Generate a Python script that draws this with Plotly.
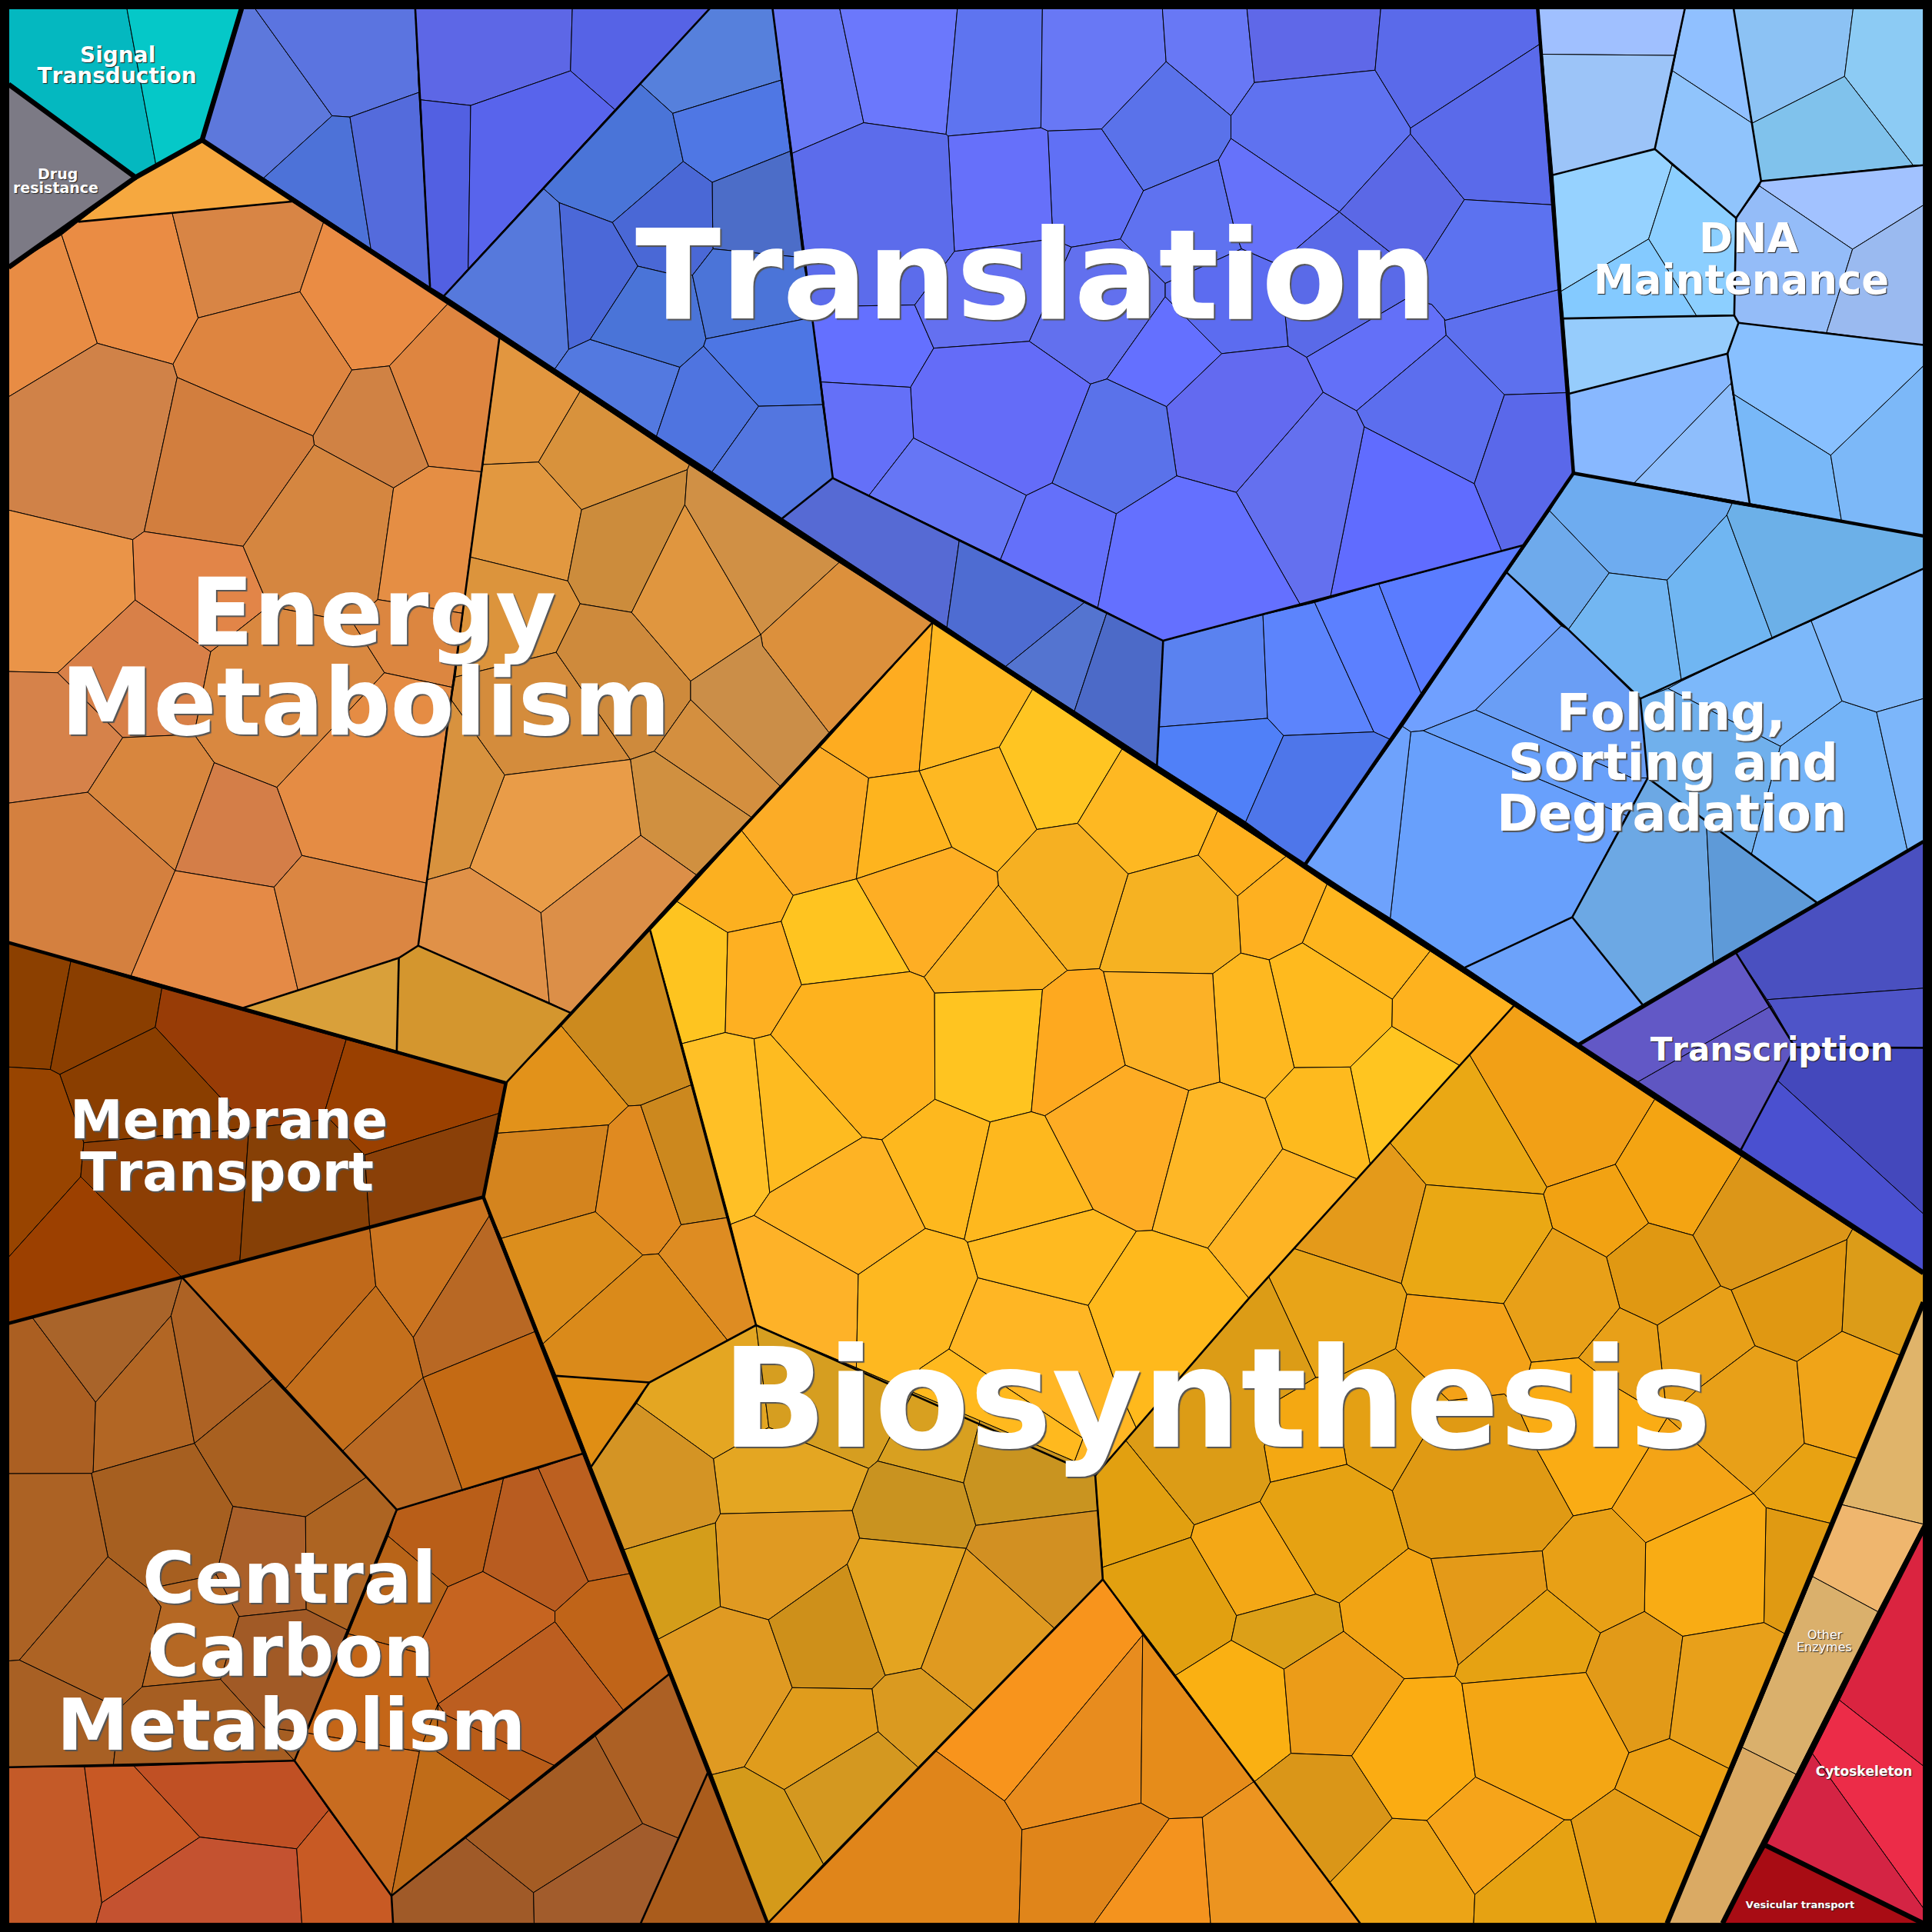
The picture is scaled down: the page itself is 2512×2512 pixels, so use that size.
import plotly.graph_objects as go

# Coordinates on a 0-1568 square, y pointing down.
top_polys = [
 [7,7,103,7,126.4,133,110,144,7,68.5],
 [103,7,196,7,164,113.7,126.4,133],
 [7,68.5,110,144,7,217],
 [164,113.7,237,163.5,63.5,180,110,144],
]
top_colors = ["#04b8c0","#05c8c8","#7c7a85","#f6a83f"]

trans_a_polys = [
 [196,7,207,7,269.5,94,214,144.5,164,113.7],
 [207,7,337,7,340,75,284,95,269.5,94],
 [269.5,94,284,95,301,202,214,144.5],
 [284,95,340,75,349,233,301,202],
 [337,7,464.5,7,463,57.5,382,85.6,341.4,81,340,75],
 [464.5,7,576,7,499,89,463,57.5],
 [341.4,81,382,85.6,380,218,360.5,240,349,233],
 [382,85.6,463,57.5,499,89,380,218],
]
trans_a_colors = ["#5d78dc","#5b74e0","#4d72d8","#546bdc","#5d67e6","#5663e6","#5260e2","#5864ec"]

trans_c_polys = [
 [576,7,627,7,634,65,546,92,519.5,68],
 [519.5,68,546,92,554.5,131,497,180.6,453.8,164.5,441,153],
 [546,92,634,65,641.4,122.7,578,148,554.5,131],
 [578,148,641.4,122.7,651.5,209,578.6,202],
 [497,180.6,554.5,131,578,148,578.6,202,562,223.4,543,222,517.6,216],
 [453.8,164.5,497,180.6,517.6,216,479,275.5,461.5,283.6],
 [441,153,453.8,164.5,461.5,283.6,450.4,299.3,360.5,240],
 [461.5,283.6,479,275.5,551.8,298,532.8,354,450.4,299.3],
 [517.6,216,543,222,562,223.4,573,275,571,281,551.8,298,479,275.5],
 [562,223.4,578.6,202,651.5,209,659.8,257.5,573,275],
 [573,275,659.8,257.5,667.5,328.4,615.7,329.7,571,281],
 [571,281,615.7,329.7,577.9,382.9,532.8,354,551.8,298],
 [615.7,329.7,667.5,328.4,675.9,388,634.8,420.7,577.9,382.9],
]
trans_c_colors = ["#5680dc","#4a74d8","#4f77e4","#4c6dc8","#4a68d6","#4b68d8","#5679dc","#5379e0","#4a74d8","#4b74d8","#4d76e4","#4f74e0","#5376e0"]

trans_d_polys = [
 [627,7,681.5,7,701,99.6,643,124.4],
 [681.5,7,777,7,767.8,109,701,99.6],
 [777,7,846,7,844.8,103.7,769.5,110.4,767.8,109],
 [846,7,943.4,7,946.4,50,894,104.7,850.4,106.3,844.8,103.7],
 [943.4,7,1012,7,1018,67,999,94,946.4,50],
 [1012,7,1120.6,7,1116,57,1018,67],
 [1120.6,7,1248,7,1249.4,36,1144.7,104,1116,57],
 [1018,67,1116,57,1144.7,104,1144.7,108.7,1087,172,999,112.4,999,94],
 [894,104.7,946.4,50,999,94,999,112.4,988.9,129.7,928,154.8],
 [850.4,106.3,894,104.7,928,154.8,909.3,194,869.5,200.6,854.5,194],
 [769.5,110.4,844.8,103.7,850.4,106.3,854.5,194,774.6,204],
 [643,124.4,701,99.6,767.8,109,769.5,110.4,774.6,204,742.4,247.5,658,249],
 [658,249,742.4,247.5,757.8,282.6,739,314.3,666.5,310],
 [774.6,204,854.5,194,869.5,200.6,835.4,277,757.8,282.6,742.4,247.5],
 [869.5,200.6,909.3,194,945.7,230,945.7,240.8,898.3,307.6,885,311.7,835.4,277],
 [909.3,194,928,154.8,988.9,129.7,1002.6,189,1007.6,202,945.7,230],
 [988.9,129.7,999,112.4,1087,172,1049.7,204,1039.4,215.7,1007.6,202,1002.6,189],
 [1049.7,204,1087,172,1150,222,1142,242,1060.4,290,1045.4,281,1039.4,215.7],
 [1060.4,290,1142,242,1162,247,1172.4,259,1173.7,272,1100.9,333.4,1073.8,318.3],
 [1144.7,108.7,1188.5,162,1150,222,1087,172],
 [1249.4,36,1259.4,166.2,1188.5,162,1144.7,108.7,1144.7,104],
 [1188.5,162,1259.4,166.2,1265.4,235,1173,260,1172.4,259,1162,247,1142,242,1150,222],
 [1173,260,1265.4,235,1272,318.7,1221,320.4,1173.7,272,1172.4,259],
 [1173.7,272,1221,320.4,1196.5,392.6,1107.2,346.4,1100.9,333.4],
 [1221,320.4,1272,318.7,1277,384,1236.7,442.4,1218.6,447,1196.5,392.6],
 [1107.2,346.4,1196.5,392.6,1218.6,447,1079.8,484],
 [1073.8,318.3,1100.9,333.4,1107.2,346.4,1079.8,484,1055.4,490.9,1003.3,399.6],
 [945.7,240.8,991.6,287,946.7,330,898.3,307.6],
 [945.7,230,945.7,240.8,991.6,287,1045.4,281,1039.4,215.7,1007.6,202],
 [991.6,287,1045.4,281,1060.4,290,1073.8,318.3,1003.3,399.6,955,386.2,946.7,330],
 [885,311.7,898.3,307.6,946.7,330,955,386.2,906,417,853.8,392],
 [757.8,282.6,835.4,277,885,311.7,853.8,392,833,402,741.4,355.5,739,314.3],
 [666.5,310,739,314.3,741.4,355.5,705.3,402,675.9,388],
 [741.4,355.5,833,402,812,454,705.3,402],
 [833,402,853.8,392,906,417,891,493,812,454],
 [906,417,955,386.2,1003.3,399.6,1055.4,490.9,944,520,891,493],
]
trans_d_colors = ["#6878f5","#6b78fc","#5e74f0","#6878f5","#6878f5","#5f68e8","#5a6aea","#5f72f0","#5a72ea","#6070f5","#6670fa","#5c6ceb",
 "#6470ff","#6470f0","#6270ee","#5f72f0","#6672fa","#5a6ae8","#6370f8","#5b68e6","#5a6aea","#5c72f0","#5d70ee","#5c6eee","#5a68ea","#606cff",
 "#6470ef","#6470ff","#5c6cf0","#636af0","#5a72ea","#646cf8","#6470f8","#6676f5","#6470fa","#6470ff"]

trans_e_polys = [
 [675.9,388,778.5,438.7,768.5,509,634.8,420.7],
 [778.5,438.7,880,489,816,541,768.5,509],
 [880,489,898.3,497.3,872,577,816,541],
 [898.3,497.3,944,520,939,621,872,577],
 [944,520,1025,499,1028.7,583,940.7,590],
 [1025,499,1067,489,1115,594,1041.7,597,1028.7,583],
 [1067,489,1119,474,1153.4,562.8,1128,600,1115,594],
 [1119,474,1236.7,442.4,1153.4,562.8],
 [940.7,590,1028.7,583,1041.7,597,1011,667,939,621],
 [1041.7,597,1115,594,1128,600,1059,702,1011,667],
]
trans_e_colors = ["#566ad4","#4e6cd2","#5474d0","#4c6ac8","#5a82f0","#5c84fc","#5c80ff","#5a7cff","#5080f8","#4e76ea"]

dna_polys = [
 [1248,7,1367.4,7,1359,45,1251.7,44],
 [1251.7,44,1359,45,1343,121,1260.4,142],
 [1367.4,7,1407,7,1422,100,1357.4,57.5],
 [1357.4,57.5,1422,100,1429.3,147,1409,177,1343,121],
 [1407,7,1504,7,1497,62,1422,100],
 [1504,7,1561,7,1561,134,1552.6,134,1497,62],
 [1422,100,1497,62,1552.6,134,1429.3,147],
 [1260.4,142,1343,121,1357,134,1338,194,1267,236.4],
 [1357,134,1409,177,1407.5,256,1377,256.5,1338,194],
 [1267,236.4,1338,194,1377,256.5,1269,258.5],
 [1269,258.5,1407.5,256,1411,262,1402,287,1273.8,319.4],
 [1429.3,147,1561,134,1561,166.5,1503.5,202.3,1428,151],
 [1428,151,1503.5,202.3,1482.4,270,1411,262,1407.5,256,1409,177],
 [1503.5,202.3,1561,166.5,1561,280,1482.4,270],
 [1411,262,1561,280,1561,297,1485.8,369.5,1407,320,1402,287],
 [1273.8,319.4,1402,287,1405,311,1326.3,392,1277,384],
 [1405,311,1420,408.6,1326.3,392],
 [1407,320,1485.8,369.5,1494.5,422.4,1420,408.6,1405,311],
 [1485.8,369.5,1561,297,1561,435,1494.5,422.4],
]
dna_colors = ["#a0c0ff","#9cc4f8","#90c0ff","#90c4fc","#8cc2f4","#8ccbf4","#80c2ec","#96d2ff","#8ccfff","#84caff","#96ccfc","#a2c2ff","#94bcf8","#9abaf0","#88c0ff","#88b8ff","#8ebefc","#78b8f8","#7cb8f8"]

fold_polys = [
 [1277,384,1405.8,408.6,1401.5,418,1353,470.8,1306,465,1257.7,414.7],
 [1257.7,414.7,1306,465,1272.8,511,1223,464.8],
 [1272.8,511,1306,465,1353,470.8,1364.7,552.8,1353.7,558.8,1331.3,567,1325.6,562.9],
 [1353,470.8,1401.5,418,1438.3,517.6,1364.7,552.8],
 [1401.5,418,1405.8,408.6,1561,435,1561,461.5,1438.3,517.6],
 [1353.7,558.8,1364.7,552.8,1438.3,517.6,1470,504,1495,568.9,1445,605.7],
 [1331.3,567,1353.7,558.8,1445,605.7,1421.6,693,1337.3,631.4],
 [1445,605.7,1495,568.9,1523,577.9,1548,690,1474.4,732.4,1421.6,693],
 [1470,504,1561,461.5,1561,567,1523,577.9,1495,568.9],
 [1523,577.9,1561,567,1561,683,1548,690],
 [1223,464.8,1267,508,1197.5,576.2,1155,593,1145,594,1138.3,589.6],
 [1267,508,1272.8,511,1325.6,562.9,1331.3,567,1337.3,631.4,1324.6,631.4,1197.5,576.2],
 [1155,593,1197.5,576.2,1324.6,631.4,1337.3,631.4,1320,662],
 [1145,594,1155,593,1320,662,1276,744.4,1189,785.2,1128.3,745.1],
 [1138.3,589.6,1145,594,1128.3,745.1,1059,702],
 [1189,785.2,1276,744.4,1333,815.3,1280.4,847],
 [1276,744.4,1337.3,631.4,1384.8,666,1390.5,781.2,1333,815.3],
 [1384.8,666,1474.4,732.4,1390.5,781.2],
]
fold_colors = ["#6eacf0","#6eaaec","#72b6f2","#70b6f2","#6cb0e8","#7cb8fa","#70b0ec","#74b4f8","#80b8fa","#7cb6fa","#70a0ff","#6a9ef5","#68a0fa","#68a0fc","#6ea2fc","#6ca2fa","#6ca8e4","#5e9ad8"]

transcr_polys = [
 [1281,848,1409,773.5,1437.6,816.4,1329.6,877.9],
 [1329.6,877.9,1437.6,816.4,1457,850,1413,933],
 [1409,773.5,1561,683,1561,802,1434.2,811.3],
 [1434.2,811.3,1561,802,1561,850.4,1457,850,1437.6,816.4],
 [1457,850,1561,850.4,1561,985.2,1442.7,877],
 [1442.7,877,1561,985.2,1561,1032,1413,933],
]
transcr_colors = ["#6258c6","#5f56c2","#4a50c0","#4e54c8","#4448bc","#4a50d0"]

energy_polys = [
 [7,217,50,190.6,79,278.6,7,322],
 [50,190.6,63.5,180,139.8,173,160.8,258,140.4,295.6,79,278.6],
 [139.8,173,237,163.5,262.5,180.6,243.4,236.8,160.8,258],
 [262.5,180.6,363.5,246.5,316,297,285.6,300.3,243.4,236.8],
 [160.8,258,243.4,236.8,285.6,300.3,254,353.8,143.8,306.3,140.4,295.6],
 [363.5,246.5,405.3,274.2,390.6,382.9,347.8,378.5,316,297],
 [285.6,300.3,316,297,347.8,378.5,319.4,396,255,361,254,353.8],
 [7,322,79,278.6,140.4,295.6,143.8,306.3,117,431.4,107.7,438,7,414],
 [143.8,306.3,254,353.8,255,361,197.3,443.4,117,431.4],
 [7,414,107.7,438,109.7,487,46.8,546,7,545],
 [109.7,487,107.7,438,117,431.4,197.3,443.4,218,492,171,529],
 [46.8,546,109.7,487,171,529,157.5,596,99.6,598.6],
 [7,545,46.8,546,99.6,598.6,71.2,643,7,651.8],
 [255,361,319.4,396,306.6,486.6,286,505,218,492,197.3,443.4],
 [319.4,396,347.8,378.5,390.6,382.9,377,498,306.6,486.6],
 [306.6,486.6,377,498,366.8,557.8,312,546,286,505],
 [218,492,286,505,312,546,224.7,639,173.9,619,157.5,596,171,529],
 [99.6,598.6,157.5,596,173.9,619,142.1,706.6,71.2,643],
 [312,546,366.8,557.8,346,716.7,245,694.3,224.7,639],
 [173.9,619,224.7,639,245,694.3,222.4,720,142.1,706.6],
 [7,651.8,71.2,643,142.1,706.6,106.3,792,7,765],
 [142.1,706.6,222.4,720,241.8,803.6,197.3,818,106.3,792],
 [222.4,720,245,694.3,346,716.7,339.4,767.5,323.7,777.5,241.8,803.6],
]
energy_colors = ["#e88c44","#ea8c44","#d88545","#ea8c44","#de8540","#de8540","#d08244","#d08248","#d27e3e","#ea9448","#e28548","#d88048","#d6824a",
 "#d58640","#e58e44","#dc8640","#d98840","#d8863e","#e58c44","#d47e48","#d4803f","#e58a46","#db8642"]

energy_k_polys = [
 [405.3,274.2,470.8,317.7,437,375,392,377],
 [470.8,317.7,559.5,377.2,557.8,381.2,472,413.7,437,375],
 [392,377,437,375,472,413.7,460.8,471.5,381.2,452],
 [472,413.7,557.8,381.2,555.8,409.6,512.6,497,470.8,490,460.8,471.5],
 [381.2,452,460.8,471.5,470.8,490,451.4,529.4,369.5,549.5],
 [369.5,549.5,451.4,529.4,511.6,616.4,409.6,629,366.2,568],
 [470.8,490,512.6,497,560.5,552.8,560.5,567.9,531,609.7,511.6,616.4,451.4,529.4],
 [555.8,409.6,617.4,515,560.5,552.8,512.6,497],
 [559.5,377.2,681,456.5,617.4,515,555.8,409.6,557.8,381.2],
 [681,456.5,757,505,672.8,594.6,619,524.4,617.4,515],
 [617.4,515,619,524.4,672.8,594.6,633.1,638,560.5,567.9,560.5,552.8],
 [560.5,567.9,633.1,638,609.7,663.2,531,609.7],
 [531,609.7,609.7,663.2,565,710,520,678,511.6,616.4],
 [409.6,629,511.6,616.4,520,678,439,740.8,381.2,704.3],
 [366.2,568,409.6,629,381.2,704.3,346.8,714],
 [346.8,714,381.2,704.3,439,740.8,445.8,813.7,339.4,767.5],
 [439,740.8,520,678,565,710,463,822,445.8,813.7],
 [197.3,818,323.7,777.5,322,853],
 [323.7,777.5,339.4,767.5,463,822,410.6,878.9,322,853],
]
energy_k_colors = ["#e2963f","#d8923c","#e29840","#cc8c3c","#dc943c","#d48c3c","#ce8a3c","#e0963f","#d09045","#dc903c","#cb8e48","#d48f3f","#d09040",
 "#e99c48","#d8923e","#e09148","#dc8f48","#d9a03a","#d4962e"]

membrane_polys = [
 [7,765,57.5,780,40.8,868,7,866],
 [57.5,780,131.4,802,126,833.7,48.5,872,40.8,868],
 [131.4,802,281,843.7,264,900.6,267.5,908.3,202,915.6,126,833.7],
 [48.5,872,126,833.7,202,915.6,68,927.4],
 [7,866,40.8,868,48.5,872,68,927.4,65.5,955,7,1020.3],
 [7,1020.3,65.5,955,147.8,1036.7,7,1074],
 [68,927.4,202,915.6,194.6,1024.3,147.8,1036.7,65.5,955],
 [202,915.6,267.5,908.3,296,937.4,300,996,194.6,1024.3],
 [281,843.7,410.6,878.9,406,903.3,296,937.4,267.5,908.3,264,900.6],
 [296,937.4,406,903.3,392.3,971.5,300,996],
]
membrane_colors = ["#8c4000","#8a3e00","#983c06","#8a3e00","#984400","#9c4000","#8c3e04","#864006","#9a4000","#8a4008"]

carbon_l_polys = [
 [147.8,1036.7,300,996,305,1043.7,231.4,1127.3],
 [300,996,392.3,971.5,397,987,335.4,1085.5,305,1043.7],
 [397,987,434.7,1080.5,343.4,1118,335.4,1085.5],
 [305,1043.7,335.4,1085.5,343.4,1118,278.2,1177.5,231.4,1127.3],
 [343.4,1118,434.7,1080.5,473,1179.8,375.2,1209.2],
 [278.2,1177.5,343.4,1118,375.2,1209.2,322,1225.3],
]
carbon_l_colors = ["#c0691a","#cb7420","#b86824","#c46f1c","#c46a14","#ba6a24"]

carbon_m_polys = [
 [7,1074,26,1069,77.6,1138,75.6,1194.9,74.2,1195.8,7,1196],
 [26,1069,147.8,1036.7,138.8,1067.8,77.6,1138],
 [77.6,1138,138.8,1067.8,157.8,1171.4,75.6,1194.9],
 [138.8,1067.8,147.8,1036.7,221.4,1119,157.8,1171.4],
 [157.8,1171.4,221.4,1119,297,1199.2,248,1231,189,1222.6],
 [74.2,1195.8,75.6,1194.9,157.8,1171.4,189,1222.6,175.6,1278,120.4,1289.5,87.6,1263.4],
 [7,1196,74.2,1195.8,87.6,1263.4,15.7,1347.3,7,1348],
 [87.6,1263.4,120.4,1289.5,130.7,1304,115.4,1369,97,1386.5,15.7,1347.3],
 [120.4,1289.5,175.6,1278,194,1312,179,1363,115.4,1369,130.7,1304],
 [189,1222.6,248,1231,248.5,1306.2,194,1312,175.6,1278],
 [248,1231,297,1199.2,322,1225.3,282,1323,248.5,1306.2],
 [194,1312,248.5,1306.2,282,1323,249,1406.5,214,1401.5,179,1363],
 [7,1348,15.7,1347.3,97,1386.5,92,1432.6,7,1434.3],
 [97,1386.5,115.4,1369,179,1363,214,1401.5,239,1429,92,1432.6],
 [214,1401.5,249,1406.5,239,1429],
]
carbon_m_colors = ["#ab5f22","#a9642a","#b26624","#ad6224","#a86020","#a65f20","#ac6224","#ad6324","#b56824","#aa602a","#ad6422","#a15a26","#a86024","#a65e22","#a65e22"]

carbon_n_polys = [
 [7,1434.3,68.6,1434,82.6,1544.3,78,1561,7,1561],
 [68.6,1434,108.7,1433.3,162.2,1491,82.6,1544.3],
 [108.7,1433.3,239,1429,266.9,1469,240.8,1500.5,162.2,1491],
 [82.6,1544.3,162.2,1491,240.8,1500.5,245,1561,78,1561],
 [240.8,1500.5,266.9,1469,317.7,1538.6,319,1561,245,1561],
]
carbon_n_colors = ["#c45a28","#c85824","#c05024","#c45230","#c85a24"]

carbon_o_polys = [
 [322,1225.3,408.6,1200,391.9,1275.5,363.5,1287.8,315,1246.7],
 [408.6,1200,437,1191.8,477.5,1283.5,450.4,1307.9,391.9,1275.5],
 [437,1191.8,473,1179.8,511.6,1277,477.5,1283.5],
 [315,1246.7,363.5,1287.8,342.8,1329.6,337.7,1341,282.6,1326],
 [363.5,1287.8,391.9,1275.5,450.4,1307.9,450.4,1316.2,355.5,1383,337.7,1341,342.8,1329.6],
 [450.4,1316.2,506.6,1388.8,450.8,1433.3,362,1392,355.5,1383],
 [450.4,1307.9,477.5,1283.5,511.6,1277,544,1358,506.6,1388.8,450.4,1316.2],
 [282.6,1326,337.7,1341,355.5,1383,340.4,1421.6,249,1406.5],
 [249,1406.5,340.4,1421.6,317.7,1538.6,239,1429],
 [340.4,1421.6,355.5,1383,354.5,1421.6,414.7,1461.7,317.7,1538.6],
 [355.5,1383,362,1392,450.8,1433.3,414.7,1461.7,354.5,1421.6],
]
carbon_o_colors = ["#b95e18","#b85c20","#bc6020","#b86418","#c66420","#bc5e20","#c06418","#c46618","#c86c20","#c06c18","#b85c18"]

carbon_p_polys = [
 [317.7,1538.6,378,1491.8,433,1536,433.5,1561,319,1561],
 [378,1491.8,483.2,1409,521.6,1480,433,1536],
 [483.2,1409,544,1358,574.6,1438.3,550.5,1491.8,521.6,1480],
 [433,1536,521.6,1480,550.5,1491.8,520,1561,433.5,1561],
 [574.6,1438.3,623,1561,520,1561],
]
carbon_p_colors = ["#a05a28","#a45c24","#ac6024","#a25c2c","#aa5c1c"]

bio_q_polys = [
 [451.4,1116.6,527,1122,479.9,1190.2],
 [455.5,832.7,527.7,755,561,880.5,520,897,510,897.6],
 [410.6,878.9,455.5,832.7,510,897.6,493.9,913,404,919.7],
 [404,919.7,493.9,913,483.2,983.5,407,1005,392.3,971.5],
 [493.9,913,510,897.6,520,897,552.8,994,534.4,1017.6,521.7,1018.6,483.2,983.5],
 [520,897,561,880.5,590.3,988.2,552.8,994],
 [407,1005,483.2,983.5,521.7,1018.6,440.7,1090.5],
 [521.7,1018.6,534.4,1017.6,590.5,1087.8,527,1122,451.4,1116.6,440.7,1090.5],
 [534.4,1017.6,552.8,994,590.3,988.2,613.6,1075.5,590.5,1087.8],
]
bio_q_colors = ["#e08e14","#cc8a1e","#e2921a","#d4841e","#e08a20","#cc881e","#dc8e1c","#da8a1a","#de8c22"]

bio_u_polys = [
 [527.7,755,549.5,731.7,590.6,756.8,588.6,838,553.5,847],
 [549.5,731.7,602,674.2,643.8,726.7,634,747.8,590.6,756.8],
 [602,674.2,665.5,606.3,705,631.4,695,713.3,643.8,726.7],
 [665.5,606.3,757,505,746,625.7,705,631.4],
 [757,505,838,559.5,811,606.3,746,625.7],
 [838,559.5,910.6,608,874.5,668.2,841.4,673.2,811,606.3],
 [910.6,608,988.2,658.2,972.5,694,915.6,709.3,874.5,668.2],
 [988.2,658.2,1043.7,695,1004.3,727.4,972.5,694],
 [1004.3,727.4,1043.7,695,1077,717.7,1057,765.2,1030,779,1007,773.5],
 [1077,717.7,1160.7,771.9,1130,811,1057,765.2],
 [1160.7,771.9,1228.6,816.3,1184.7,864.8,1129.6,833,1130,811],
 [1030,779,1057,765.2,1130,811,1129.6,833,1095.9,866,1050.4,866.5],
 [1129.6,833,1184.7,864.8,1112,945,1095.9,866],
 [1026.7,891.6,1050.4,866.5,1095.9,866,1112,945,1101.3,956.8,1041,932.4],
 [1007,773.5,1030,779,1050.4,866.5,1026.7,891.6,990,878.2,984.2,790.2],
 [915.6,709.3,972.5,694,1004.3,727.4,1007,773.5,984.2,790.2,895.6,788.6,892.2,786.2],
 [841.4,673.2,874.5,668.2,915.6,709.3,892.2,786.2,866.2,787.6,810.3,718.4,809.3,707.7],
 [746,625.7,811,606.3,841.4,673.2,809.3,707.7,772.5,687.6],
 [705,631.4,746,625.7,772.5,687.6,695,713.3],
 [695,713.3,772.5,687.6,809.3,707.7,810.3,718.4,750,793,738.4,788.6],
 [810.3,718.4,866.2,787.6,846.1,803,758.5,806,750,793],
 [643.8,726.7,695,713.3,738.4,788.6,650.5,799.3,634,747.8],
 [590.6,756.8,634,747.8,650.5,799.3,625.4,839.7,612,843.1,588.6,838],
 [650.5,799.3,738.4,788.6,750,793,758.5,806,758.8,892.2,715.7,925,700,923,625.4,839.7],
 [758.5,806,846.1,803,837,902.3,803.6,910.6,758.8,892.2],
 [846.1,803,866.2,787.6,892.2,786.2,895.6,788.6,913.3,864.5,848,905.6,837,902.3],
 [895.6,788.6,984.2,790.2,990,878.2,964.8,885,913.3,864.5],
 [913.3,864.5,964.8,885,935,998.6,922.3,999.2,887.2,981.5,848,905.6],
 [964.8,885,990,878.2,1026.7,891.6,1041,932.4,980.2,1013,935,998.6],
 [1041,932.4,1101.3,956.8,1013.6,1053.7,980.2,1013],
 [553.5,847,588.6,838,612,843.1,624.7,968,612,986.5,593,993.6],
 [612,843.1,625.4,839.7,700,923,624.7,968],
 [624.7,968,700,923,715.7,925,751,997,696.6,1034.4,612,986.5],
 [715.7,925,758.8,892.2,803.6,910.6,782.6,1005.9,751,997],
 [803.6,910.6,837,902.3,848,905.6,887.2,981.5,785.2,1008.3,782.6,1005.9],
 [593,993.6,612,986.5,696.6,1034.4,695,1110,613.6,1075.5],
 [696.6,1034.4,751,997,782.6,1005.9,785.2,1008.3,793.6,1037,770.2,1094.9,746.8,1110.6,741,1130,695,1110],
 [770.2,1094.9,793.6,1037,883.2,1059.4,904,1119,922.3,1159,888.9,1197.5,872,1186,879,1167.4],
 [746.8,1110.6,770.2,1094.9,879,1167.4,872,1186,741,1130],
 [785.2,1008.3,887.2,981.5,922.3,999.2,883.2,1059.4,793.6,1037],
 [922.3,999.2,935,998.6,980.2,1013,1013.6,1053.7,922.3,1159,904,1119,883.2,1059.4],
]
bio_u_colors = ["#fec420","#fcb020","#fcac26","#feac20","#feb822","#ffc522","#feb822","#feb01e","#feb020","#feb51e","#feb21e","#ffba1e","#ffc520","#feba1e","#feb820",
 "#f6b222","#f6b022","#feb822","#feb41e","#feae24","#f9b122","#ffc420","#feb022","#feb21e","#ffc420","#fea91f","#fcb126","#feac24","#feb726","#feb424",
 "#ffc026","#febb20","#feb324","#feb81e","#feb81e","#feb228","#feb820","#ffb624","#ffb91e","#ffba20","#ffb91c"]

bio_v_polys = [
 [527,1122,613.6,1075.5,624,1158.4,579,1184,516.7,1139],
 [613.6,1075.5,741,1130,712.3,1185.8,705,1191.8,653,1170.8,624,1158.4],
 [579,1184,624,1158.4,653,1170.8,705,1191.8,691.6,1226,584.6,1228.6],
 [741,1130,795.3,1153,782,1203.5,712.3,1185.8],
 [795.3,1153,872,1186,888.9,1197.5,890.6,1226,791.9,1238,782,1203.5],
 [712.3,1185.8,782,1203.5,791.9,1238,784.2,1256.7,697.6,1248.4,691.6,1226,705,1191.8],
 [516.7,1139,579,1184,584.6,1228.6,580.6,1236,506.6,1257.7,479.9,1190.2],
 [584.6,1228.6,691.6,1226,697.6,1248.4,687.6,1269.4,623.7,1314.6,584.6,1303.9,580.6,1236],
 [580.6,1236,584.6,1303.9,534.4,1330.3,506.6,1257.7],
 [534.4,1330.3,584.6,1303.9,623.7,1314.6,643,1369.7,604,1434,577.9,1440.3],
 [623.7,1314.6,687.6,1269.4,718.4,1359.7,707.7,1370.7,643,1369.7],
 [697.6,1248.4,784.2,1256.7,747.5,1354,718.4,1359.7,687.6,1269.4],
 [784.2,1256.7,855.5,1321.3,790.2,1388,747.5,1354],
 [791.9,1238,890.6,1226,895,1281.8,855.5,1321.3,784.2,1256.7],
 [718.4,1359.7,747.5,1354,790.2,1388,745.1,1434.3,712.7,1405.5,707.7,1370.7],
 [643,1369.7,707.7,1370.7,712.7,1405.5,636.4,1452.4,604,1434],
 [712.7,1405.5,745.1,1434.3,668.2,1512.9,636.4,1452.4],
 [577.9,1440.3,604,1434,636.4,1452.4,668.2,1512.9,623,1561],
]
bio_v_colors = ["#e4a622","#d69e20","#e4a622","#d8a020","#c99420","#c99320","#d49424","#e09a22","#d49d1a","#e09a22","#ce901a","#e4a420","#e09a20","#d29022","#da9a20","#e09c1c","#d49820","#d49a1a"]

bio_w_polys = [
 [759.5,1421,895,1281.8,927.4,1327,815.3,1461.7],
 [623,1561,759.5,1421,815.3,1461.7,829.4,1485,827,1561],
 [815.3,1461.7,927.4,1327,926,1463.4,829.4,1485],
 [927.4,1327,1017.6,1446,975.8,1475,949,1476,926,1463.4],
 [829.4,1485,926,1463.4,949,1476,888,1561,827,1561],
 [949,1476,975.8,1475,982.5,1561,888,1561],
 [975.8,1475,1017.6,1446,1103.9,1561,982.5,1561],
]
bio_w_colors = ["#f8941c","#e0851a","#e88c1e","#e68c1a","#e0851a","#f4931e","#ec9420"]

bio_x_polys = [
 [1228.6,816.3,1343,892.2,1311,945,1255.4,963.5,1192.6,856],
 [1192.6,856,1255.4,963.5,1252.7,969.2,1157.4,961.5,1128,927.4],
 [1128,927.4,1157.4,961.5,1137.3,1041.7,1050.2,1013.3],
 [1343,892.2,1413.2,938.4,1374,1002.6,1338,992.6,1311,945],
 [1255.4,963.5,1311,945,1338,992.6,1303.8,1020.3,1260,996.6,1252.7,969.2],
 [1157.4,961.5,1252.7,969.2,1260,996.6,1220.3,1058,1141.7,1050.4,1137.3,1041.7],
 [1374,1002.6,1413.2,938.4,1503.5,997.6,1499,1006,1405,1047,1396.5,1043.7],
 [1303.8,1020.3,1338,992.6,1374,1002.6,1396.5,1043.7,1345,1075.5,1314.6,1061.4],
 [1220.3,1058,1260,996.6,1303.8,1020.3,1314.6,1061.4,1281,1102,1242.7,1105.6],
 [1405,1047,1499,1006,1495,1080.5,1458.4,1105,1424.3,1092.2],
 [1499,1006,1503.5,997.6,1561,1033,1561,1057,1543.6,1100.5,1495,1080.5],
 [1345,1075.5,1396.5,1043.7,1405,1047,1424.3,1092.2,1378,1127.3,1353,1150.7],
 [1281,1102,1314.6,1061.4,1345,1075.5,1353,1150.7,1311,1125.6],
 [1424.3,1092.2,1458.4,1105,1464.4,1171.4,1423.3,1212,1353,1150.7,1378,1127.3],
 [1458.4,1105,1495,1080.5,1543.6,1100.5,1508.5,1184,1464.4,1171.4],
 [1464.4,1171.4,1508.5,1184,1486.8,1236.6,1433.3,1223.6,1423.3,1212],
 [1433.3,1223.6,1486.8,1236.6,1449.3,1326.3,1431.6,1316.9],
 [1423.3,1212,1433.3,1223.6,1431.6,1316.9,1365.7,1328,1334.6,1307.9,1335.6,1252],
 [1353,1150.7,1423.3,1212,1335.6,1252,1308,1224.3],
 [1242.7,1105.6,1281,1102,1311,1125.6,1353,1150.7,1308,1224.3,1276.8,1230.3,1247.7,1177.5,1232.6,1144],
 [1130,1210,1154,1169,1176,1136.7,1221,1131.3,1232.6,1144,1247.7,1177.5,1276.8,1230.3,1251.7,1258.7,1161.4,1265,1143,1256.7],
 [1141.7,1050.4,1220.3,1058,1242.7,1105.6,1232.6,1144,1221,1131.3,1176,1136.7,1155.7,1117.3,1132.6,1094.5],
 [1089,1115.6,1132.6,1094.5,1155.7,1117.3,1176,1136.7,1154,1169,1130,1210,1093,1188.5,1089,1164],
 [1036,1137,1067.8,1118,1089,1115.6,1089,1164,1093,1188.5,1031,1203,1026,1174],
 [1050.2,1013.3,1137.3,1041.7,1141.7,1050.4,1132.6,1094.5,1089,1115.6,1067.8,1118,1029.6,1036],
 [1029.6,1036,1067.8,1118,1036,1137,1026,1174,1031,1203,1022.6,1218.6,969.2,1237.6,913.6,1169],
 [888.9,1197.5,900.6,1184,913.6,1169,969.2,1237.6,966.5,1247.7,894.9,1272],
 [894.9,1272,966.5,1247.7,1003.6,1311.2,999.3,1331.3,954.1,1359.7,895,1281.8],
 [969.2,1237.6,1022.6,1218.6,1068,1293.8,1003.6,1311.2,966.5,1247.7],
 [1022.6,1218.6,1031,1203,1093,1188.5,1130,1210,1143,1256.7,1087,1301,1068,1293.8],
 [999.3,1331.3,1003.6,1311.2,1068,1293.8,1087,1301,1090.5,1324,1042,1354.7],
 [954.1,1359.7,999.3,1331.3,1042,1354.7,1047.7,1423,1018,1446],
 [1042,1354.7,1090.5,1324,1139.7,1362.4,1097,1425,1047.7,1423],
 [1018,1446,1047.7,1423,1097,1425,1130,1475.7,1079.5,1527.6],
 [1079.5,1527.6,1130,1475.7,1158,1477.4,1197,1537.6,1196,1561,1103.9,1561],
 [1139.7,1362.4,1180.8,1360.4,1186.5,1366.4,1197.5,1442.3,1158,1477.4,1130,1475.7,1097,1425],
 [1087,1301,1143,1256.7,1161.4,1265,1183.5,1351.3,1180.8,1360.4,1139.7,1362.4,1090.5,1324],
 [1161.4,1265,1251.7,1258.7,1255.7,1290,1183.5,1351.3],
 [1183.5,1351.3,1255.7,1290,1298.9,1325.3,1287.1,1357.4,1186.5,1366.4,1180.8,1360.4],
 [1251.7,1258.7,1276.8,1230.3,1308,1224.3,1335.6,1252,1334.6,1307.9,1298.9,1325.3,1255.7,1290],
 [1298.9,1325.3,1334.6,1307.9,1365.7,1328,1355,1411,1322,1422.6,1287.1,1357.4],
 [1186.5,1366.4,1287.1,1357.4,1322,1422.6,1310.5,1451.7,1275,1477,1269.8,1477,1197.5,1442.3],
 [1197.5,1442.3,1269.8,1477,1197,1537.6,1158,1477.4],
 [1197,1537.6,1269.8,1477,1275,1477,1295.5,1561,1196,1561],
 [1275,1477,1310.5,1451.7,1380.8,1491.1,1353,1561,1295.5,1561],
 [1310.5,1451.7,1322,1422.6,1355,1411,1403.8,1435.6,1380.8,1491.1],
 [1365.7,1328,1431.6,1316.9,1449.3,1326.3,1403.8,1435.6,1355,1411],
]
bio_x_colors = ["#f2a016","#eaa814","#e49a1a","#f4a412","#f2a212","#eaa814","#dc9618","#e09812","#e8a018","#e09812","#dc9c18","#e8a018","#e8a018","#e8a018","#f0a418","#e8a212","#e09a12","#f9ac14",
 "#f4a416","#faac14","#e09a14","#f4a218","#e4a014","#f4a812","#e8a418","#dc9c16","#e2a010","#e2a010","#f4a816","#e6a212","#dca018","#fab012","#ec9c18","#da9618","#eca416","#fbac12",
 "#f2a414","#e49a18","#e6a212","#e8a016","#e29a18","#f4a614","#f6a41a","#e6a212","#e49c16","#eca014","#e8a01a"]

side_polys = [
 [1561,1057,1561,1237,1494,1221],
 [1494,1221,1561,1237,1524,1308,1471,1279.5],
 [1471,1279.5,1524,1308,1457.7,1440,1414,1418.2],
 [1414,1418.2,1457.7,1440,1398,1561,1353,1561],
 [1561,1241,1561,1433.3,1492.8,1379.8],
 [1492.8,1379.8,1561,1433.3,1561,1548.7,1471,1423.3],
 [1471,1423.3,1561,1548.7,1561,1561,1433.3,1497.8],
 [1433.3,1497.8,1561,1561,1398,1561],
]
side_colors = ["#e0b46a","#efb66e","#dab06c","#daaa64","#da2440","#ec2c48","#d42444","#a80c14"]

thick_lines = [
 [196,7,164,113.7,110,144,7,68.5],
 [110,144,7,217],
 [164,113.7,1561,1033],
 [1561,1057,1353,1561],
 [1561,1241,1398,1561],
 [1433.3,1497.8,1561,1561],
]
strong_lines = [
 [7,765,410.6,878.9,392.3,971.5,7,1074],
 [392.3,971.5,623,1561],
 [1561,683,1281,848],
 [1561,435,1277,384],
 [1277,384,1059,702],
 [1248,7,1277,384],
]
medium_lines = [
 [63.5,180,237,163.5],
 [337,7,349,233],
 [576,7,360.5,240],
 [627,7,675.9,388,944,520,1236.7,442.4],
 [634.8,420.7,675.9,388],
 [944,520,939,621],
 [405.3,274.2,339.4,767.5,323.7,777.5,197.3,818],
 [323.7,777.5,322,853],
 [339.4,767.5,463,822],
 [757,505,410.6,878.9],
 [527.7,755,613.6,1075.5,888.9,1197.5,895,1281.8],
 [1228.6,816.3,1013.6,1053.7,888.9,1197.5],
 [527,1122,451.4,1116.6],
 [613.6,1075.5,527,1122,479.9,1190.2],
 [895,1281.8,623,1561],
 [895,1281.8,1103.9,1561],
 [147.8,1036.7,322,1225.3,473,1179.8],
 [322,1225.3,239,1429,317.7,1538.6,544,1358],
 [7,1434.3,239,1429],
 [317.7,1538.6,319,1561],
 [574.6,1438.3,520,1561],
 [1367.4,7,1343,121,1260.4,142],
 [1407,7,1429.3,147,1409,177,1343,121],
 [1429.3,147,1561,134],
 [1409,177,1407.5,256,1269,258.5],
 [1407.5,256,1411,262,1402,287,1273.8,319.4],
 [1402,287,1420,408.6],
 [1411,262,1561,280],
 [1223,464.8,1272.8,511,1331.3,567,1337.3,631.4,1276,744.4,1189,785.2],
 [1276,744.4,1333,815.3],
 [1331.3,567,1561,461.5],
 [1337.3,631.4,1474.4,732.4],
 [1409,773.5,1457,850,1413,933],
 [1457,850,1561,850.4],
]
frame_x = [3.75,1564.5,1564.5,3.75,3.75]
frame_y = [3.75,3.75,1564.5,1564.5,3.75]

label_text = ["Translation","Biosynthesis","Energy","Metabolism","Central","Carbon","Metabolism","Membrane","Transport","Folding,","Sorting and","Degradation",
 "DNA","Maintenance","Transcription","Signal","Transduction","Drug","resistance","Other","Enzymes","Cytoskeleton","Vesicular transport"]
label_x = [841,987,303,297,235,236,236,185.6,184,1356,1358,1357,1419,1413,1437.6,95.6,94.7,46.8,45,1481,1480.5,1512.5,1460.7]
label_y = [223,1135,497,570,1281,1340,1400,908.6,951,578.6,619,660,193,226.6,852,44.6,61.7,141,152,1327,1337,1437.5,1546]
label_size = [163,180,121,121,93,93,93,69,69,65,65,65,53,53,42,28,28,19,19,16,16,17,13]
label_bold = [1]*19 + [0,0,1,1]

cell_sets = [
 (top_polys,top_colors),(trans_a_polys,trans_a_colors),(trans_c_polys,trans_c_colors),(trans_d_polys,trans_d_colors),
 (trans_e_polys,trans_e_colors),(dna_polys,dna_colors),(fold_polys,fold_colors),(transcr_polys,transcr_colors),
 (energy_polys,energy_colors),(energy_k_polys,energy_k_colors),(membrane_polys,membrane_colors),(carbon_l_polys,carbon_l_colors),
 (carbon_m_polys,carbon_m_colors),(carbon_n_polys,carbon_n_colors),(carbon_o_polys,carbon_o_colors),(carbon_p_polys,carbon_p_colors),
 (bio_q_polys,bio_q_colors),(bio_u_polys,bio_u_colors),(bio_v_polys,bio_v_colors),(bio_w_polys,bio_w_colors),(bio_x_polys,bio_x_colors),(side_polys,side_colors),
]

fig = go.Figure()
for polys, colors in cell_sets:
    for poly, color in zip(polys, colors):
        fig.add_trace(go.Scatter(x=poly[0::2]+poly[:1], y=poly[1::2]+poly[1:2], mode="lines", fill="toself",
                                 fillcolor=color, line=dict(color="#000000", width=1), hoverinfo="skip", showlegend=False))

for lines, w in ((medium_lines,2.6),(strong_lines,4.5),(thick_lines,6.5)):
    for ln in lines:
        fig.add_trace(go.Scatter(x=ln[0::2], y=ln[1::2], mode="lines", line=dict(color="#000000", width=w),
                                 hoverinfo="skip", showlegend=False))
fig.add_trace(go.Scatter(x=frame_x, y=frame_y, mode="lines", line=dict(color="#000000", width=12), hoverinfo="skip", showlegend=False))

for t, x, y, s, b in zip(label_text, label_x, label_y, label_size, label_bold):
    shadow = "2px 2px 1px #555555" if s >= 60 else "1px 1px 1px #222222"
    fig.add_annotation(x=x, y=y, text=t, showarrow=False, xanchor="center", yanchor="middle", borderpad=0,
                       font=dict(family="DejaVu Sans", size=s, color="#ffffff", weight="bold" if b else "normal", shadow=shadow))

fig.update_layout(width=2512, height=2512, margin=dict(l=0, r=0, t=0, b=0), paper_bgcolor="#000000", plot_bgcolor="#000000",
                  xaxis=dict(range=[0,1568], visible=False, fixedrange=True),
                  yaxis=dict(range=[1568,0], visible=False, fixedrange=True))
fig.write_html("out.html", config={"displayModeBar": False},
               post_script="document.body.style.margin='0';document.body.style.background='#000';"
                           "var s=document.createElement('style');s.textContent='text{font-kerning:none !important}';document.head.appendChild(s);")
